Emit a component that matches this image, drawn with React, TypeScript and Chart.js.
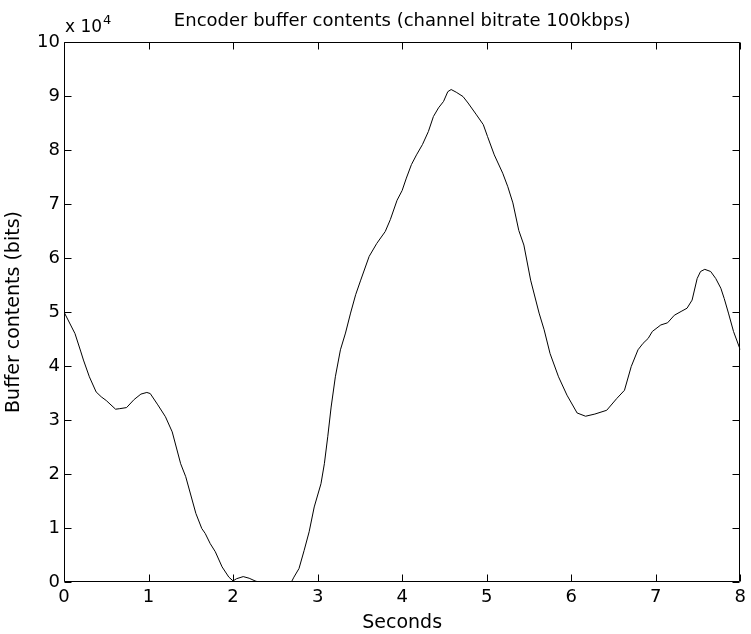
import React, { useEffect, useRef } from "react";
import { Chart, registerables } from "chart.js";

Chart.register(...registerables);

const TITLE = "Encoder buffer contents (channel bitrate 100kbps)";
const X_LABEL = "Seconds";
const Y_LABEL = "Buffer contents (bits)";

const seconds = [
  0, 0.13, 0.2, 0.23, 0.3, 0.38, 0.44, 0.5, 0.61, 0.66, 0.74, 0.83, 0.91, 0.98, 1.02, 1.11, 1.2,
  1.28, 1.38, 1.44, 1.56, 1.63, 1.67, 1.73, 1.79, 1.87, 1.95, 2.0, 2.04, 2.12, 2.19, 2.26, 2.3,
  2.69, 2.72, 2.78, 2.84, 2.9, 2.96, 3.04, 3.08, 3.12, 3.16, 3.21, 3.27, 3.33, 3.39, 3.45, 3.51,
  3.61, 3.7, 3.8, 3.86, 3.94, 4.0, 4.05, 4.11, 4.17, 4.24, 4.31, 4.37, 4.43, 4.49, 4.54, 4.58,
  4.64, 4.72, 4.78, 4.88, 4.96, 5.01, 5.09, 5.19, 5.25, 5.31, 5.38, 5.44, 5.52, 5.62, 5.68, 5.75,
  5.85, 5.95, 6.07, 6.17, 6.28, 6.42, 6.54, 6.63, 6.71, 6.79, 6.85, 6.91, 6.96, 7.06, 7.14, 7.22,
  7.3, 7.37, 7.43, 7.49, 7.53, 7.58, 7.65, 7.71, 7.77, 7.81, 7.86, 7.92, 8.0,
];

const bufferBits = [
  50000, 46000, 42600, 41100, 38000, 35200, 34300, 33600, 32000, 32100, 32300, 33800, 34800,
  35100, 34900, 32800, 30600, 27800, 21900, 19500, 12700, 9900, 9000, 7100, 5600, 2800, 900,
  200, 600, 1000, 700, 200, 0, 0, 900, 2500, 5800, 9300, 13900, 18200, 21900, 26900, 32400,
  38000, 43000, 46100, 49800, 53200, 55900, 60300, 62700, 64900, 67100, 70700, 72500, 74800,
  77300, 79100, 81000, 83400, 86200, 87800, 89000, 90800, 91200, 90700, 89900, 88700, 86500,
  84700, 82500, 79100, 75700, 73200, 70200, 65100, 62400, 55900, 49800, 46700, 42300, 38000,
  34600, 31300, 30700, 31100, 31800, 34000, 35500, 39900, 43000, 44200, 45100, 46400, 47600,
  48000, 49400, 50100, 50700, 52200, 56200, 57500, 57900, 57500, 56200, 54400, 52500, 49800,
  46400, 43000,
];

const X_MIN = 0;
const X_MAX = 8;
const X_STEP = 1;
const Y_MIN = 0;
const Y_MAX = 100000;
const Y_STEP = 10000;
const EXPONENT = "4";

const FONT = "'DejaVu Sans', 'Liberation Sans', Arial, sans-serif";

const boxPlugin = {
  id: "matlabBox",
  afterDraw(chart: any) {
    const { ctx, chartArea, scales } = chart;
    const { left, right, top, bottom } = chartArea;
    const xs = scales.x;
    const ys = scales.y;
    const tl = 7;
    const L = Math.round(left) + 0.5;
    const R = Math.round(right) - 0.5;
    const T = Math.round(top) + 0.5;
    const B = Math.round(bottom) - 0.5;
    ctx.save();
    ctx.strokeStyle = "#000";
    ctx.lineWidth = 1;
    ctx.beginPath();
    ctx.moveTo(L, T);
    ctx.lineTo(R, T);
    ctx.lineTo(R, B);
    ctx.lineTo(L, B);
    ctx.closePath();
    ctx.stroke();

    ctx.beginPath();
    for (let v = X_MIN; v <= X_MAX; v += X_STEP) {
      const px = Math.round(xs.getPixelForValue(v)) + 0.5;
      ctx.moveTo(px, B);
      ctx.lineTo(px, B - tl);
      ctx.moveTo(px, T);
      ctx.lineTo(px, T + tl);
    }
    for (let v = Y_MIN; v <= Y_MAX; v += Y_STEP) {
      const py = Math.round(ys.getPixelForValue(v)) + 0.5;
      ctx.moveTo(L, py);
      ctx.lineTo(L + tl, py);
      ctx.moveTo(R, py);
      ctx.lineTo(R - tl, py);
    }
    ctx.stroke();

    ctx.fillStyle = "#000";
    ctx.textBaseline = "alphabetic";
    ctx.textAlign = "center";
    ctx.font = `18px ${FONT}`;
    ctx.fillText(TITLE, (left + right) / 2, 26);

    ctx.textAlign = "left";
    ctx.font = `17px ${FONT}`;
    const base = "x 10";
    ctx.fillText(base, left + 1, 32);
    const w = ctx.measureText(base).width;
    ctx.font = `13px ${FONT}`;
    ctx.fillText(EXPONENT, left + 2 + w, 24);
    ctx.restore();
  },
};

export default function App() {
  const canvasRef = useRef<HTMLCanvasElement | null>(null);

  useEffect(() => {
    if (!canvasRef.current) return;
    const points = seconds.map((s, i) => ({ x: s, y: bufferBits[i] }));
    const chart = new Chart(canvasRef.current, {
      type: "line",
      data: {
        datasets: [
          {
            data: points,
            borderColor: "#000",
            borderWidth: 1,
            pointRadius: 0,
            tension: 0,
            fill: false,
          },
        ],
      },
      options: {
        responsive: false,
        animation: false,
        layout: { padding: { top: 42, right: 4, left: 0, bottom: 0 } },
        plugins: {
          legend: { display: false },
          title: { display: false },
          tooltip: { enabled: false },
        },
        scales: {
          x: {
            type: "linear",
            min: X_MIN,
            max: X_MAX,
            afterFit: (s: any) => {
              s.height = 52;
            },
            grid: { display: false, drawTicks: false },
            border: { display: false },
            ticks: {
              stepSize: X_STEP,
              color: "#000",
              padding: 5,
              font: { family: FONT, size: 18 },
              maxRotation: 0,
            },
            title: {
              display: true,
              text: X_LABEL,
              color: "#000",
              font: { family: FONT, size: 19 },
              padding: { top: 0, bottom: 0 },
            },
          },
          y: {
            type: "linear",
            min: Y_MIN,
            max: Y_MAX,
            afterFit: (s: any) => {
              s.width = 64;
            },
            grid: { display: false, drawTicks: false },
            border: { display: false },
            ticks: {
              stepSize: Y_STEP,
              color: "#000",
              padding: 4,
              font: { family: FONT, size: 18 },
              callback: (v: any) => String(Number(v) / 10000),
            },
            title: {
              display: true,
              text: Y_LABEL,
              color: "#000",
              font: { family: FONT, size: 19 },
              padding: { top: 3, bottom: 0 },
            },
          },
        },
      },
      plugins: [boxPlugin],
    });
    return () => chart.destroy();
  }, []);

  return (
    <div style={{ position: "fixed", left: 0, top: 0, width: 751, height: 634, background: "#fff" }}>
      <canvas ref={canvasRef} width={751} height={634} style={{ width: 751, height: 634 }} />
    </div>
  );
}
